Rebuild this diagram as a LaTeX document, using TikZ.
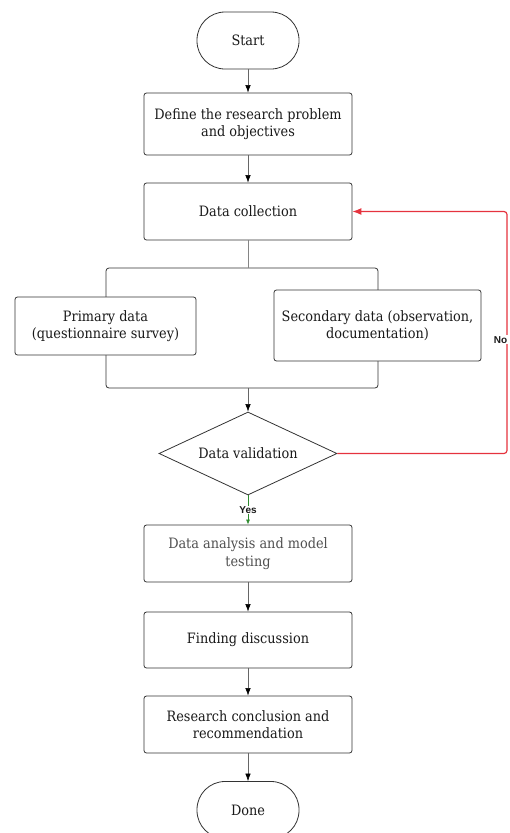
\documentclass[tikz,border=0pt]{standalone}
\usepackage{fontspec}
\setmainfont{DejaVu Serif Condensed}
\newfontfamily\tagfont{Liberation Sans}
\usetikzlibrary{shapes.geometric,arrows.meta}
\definecolor{edge}{HTML}{333333}
\definecolor{ink}{HTML}{1A1A1A}
\definecolor{softink}{HTML}{505050}
\definecolor{wire}{HTML}{666666}
\definecolor{noline}{HTML}{E5333E}
\definecolor{yesline}{HTML}{2E8B2E}
\begin{document}
\begin{tikzpicture}[x=1pt,y=-1pt,
  box/.style={draw=edge, line width=0.8pt, rounded corners=2.5pt, fill=white,
    minimum width=208pt, minimum height=57pt, align=center, inner sep=0pt,
    font=\fontsize{14.3}{17.5}\selectfont, text=ink},
  term/.style={box, minimum width=102pt, minimum height=57pt, rounded corners=28pt},
  decision/.style={draw=edge, line width=0.8pt, diamond, aspect=2.14, fill=white, inner sep=0pt,
    minimum width=178pt, minimum height=83pt, font=\fontsize{14.3}{17.5}\selectfont, text=ink},
  flow/.style={draw=wire, line width=0.6pt, -{Latex[length=7.5pt,width=5.5pt,color=black]}},
  plain/.style={draw=wire!80, line width=0.6pt},
  tag/.style={fill=white, inner sep=1pt, font=\tagfont\bfseries\fontsize{10}{12}\selectfont}
]
\useasboundingbox (0,0) rectangle (509,833);
\clip (0,0) rectangle (509,833);

% main column
\node[term] (start) at (248,40.5) {Start};
\node[box, minimum height=62pt] (define) at (248,124) {Define the research problem\\and objectives};
\node[box] (collect) at (248,211.5) {Data collection};

% frame joining the two data sources
\node[draw=edge, line width=0.8pt, rounded corners=3pt, minimum width=272pt,
  minimum height=120pt, inner sep=0pt] (frame) at (242,328) {};
\node[box, minimum width=181pt, minimum height=58pt] (primary) at (105.5,326) {Primary data\\(questionnaire survey)};
\node[box, minimum width=207pt, minimum height=71pt] (secondary) at (377.5,325.5) {Secondary data (observation,\\documentation)};

\node[decision] (valid) at (248,453.5) {Data validation};
\node[box, text=softink] (analysis) at (248,553.5) {Data analysis and model\\testing};
\node[box, minimum height=56pt] (finding) at (248,640) {Finding discussion};
\node[box] (conclusion) at (248,724.5) {Research conclusion and\\recommendation};
\node[term] (done) at (248,810) {Done};

\coordinate (loop) at (507,0);

% connectors
\draw[flow] (start) -- (define);
\draw[flow] (define) -- (collect);
\draw[plain] (collect.south) -- (collect.south |- frame.north);
\draw[flow] (frame.south -| valid.north) -- (valid.north);
\draw[yesline, line width=0.7pt, -{Latex[length=5pt,width=4pt]}] (valid.south) -- node[tag, text=ink] {Yes} (analysis.north);
\draw[noline, line width=1.2pt, rounded corners=3pt, -{Latex[length=9pt,width=7pt]}]
  (valid.east) -- (valid.east -| loop) -- coordinate[pos=0.47] (nomark) (loop |- collect.east) -- (collect.east);
\node[tag, text=ink, anchor=east, inner xsep=1.5pt] (notag) at (509,0 |- nomark) {No};
\draw[flow] (analysis) -- (finding);
\draw[flow] (finding) -- (conclusion);
\draw[flow] (conclusion) -- (done);
\end{tikzpicture}
\end{document}
